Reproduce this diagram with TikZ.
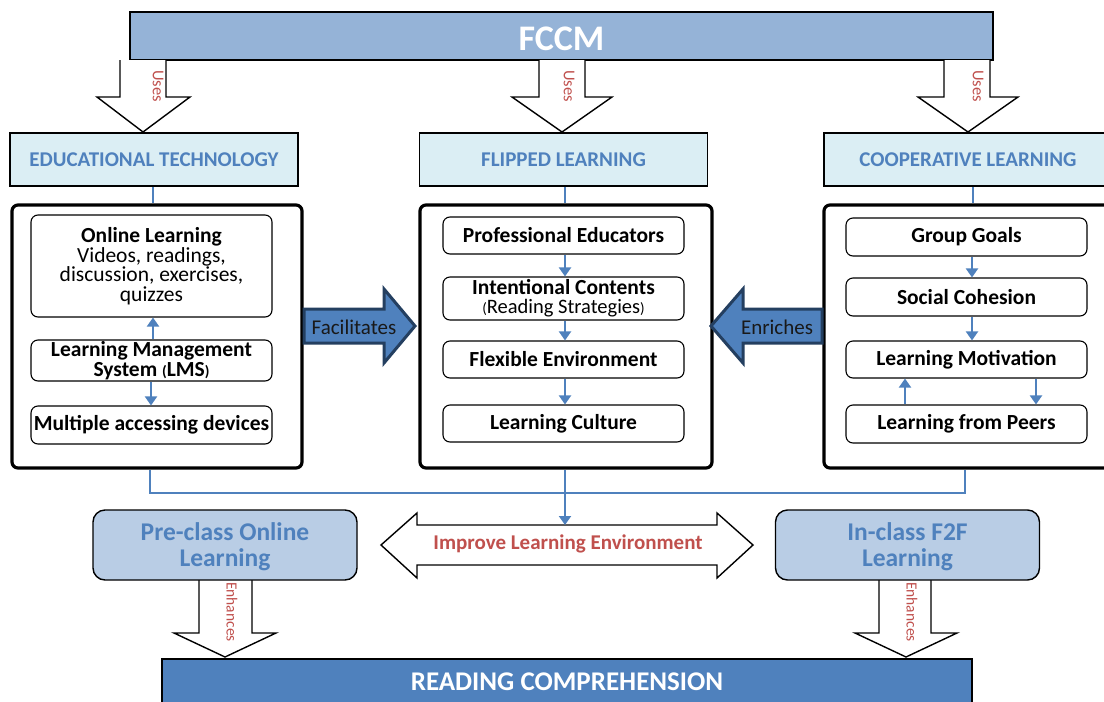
\documentclass[tikz,border=0pt]{standalone}
\usepackage{fontspec}
\setmainfont{Carlito}
\usetikzlibrary{arrows.meta}
\definecolor{fccmfill}{HTML}{95B3D7}
\definecolor{hdrfill}{HTML}{DBEEF4}
\definecolor{hdrblue}{HTML}{4F81BD}
\definecolor{linkblue}{HTML}{4F81BD}
\definecolor{navy}{HTML}{243F60}
\definecolor{redtxt}{HTML}{C0504D}
\definecolor{lowfill}{HTML}{B9CDE5}
\newcommand{\smallpar}[1]{{\fontsize{15}{15}\selectfont #1}}
\begin{document}
\begin{tikzpicture}[x=1pt,y=-1pt,
  hdr/.style={draw=black, line width=1.6pt, fill=hdrfill, text=hdrblue,
    font=\fontsize{21}{24}\selectfont\bfseries, minimum width=288pt, minimum height=53pt, inner sep=0pt},
  cont/.style={draw=black, line width=3.2pt, rounded corners=6pt, minimum width=290pt, minimum height=263pt, inner sep=0pt},
  ibox/.style={draw=black, line width=1.1pt, rounded corners=7pt, fill=white, minimum width=241pt,
    align=center, font=\fontsize{21.5}{19.5}\selectfont\bfseries, inner sep=0pt},
  flow/.style={draw=linkblue, line width=2pt, -{Triangle[width=12pt,length=9pt]}},
  link/.style={draw=linkblue, line width=2pt},
  blockw/.style={draw=black, line width=1.4pt, fill=white, line join=miter},
  blockb/.style={draw=navy, line width=3pt, fill=linkblue, line join=miter},
  vlabel/.style={text=redtxt, rotate=-90, font=\fontsize{16.5}{17}\selectfont, inner sep=0pt},
  lowbox/.style={draw=black, line width=1.4pt, rounded corners=12pt, fill=lowfill, text=hdrblue,
    minimum width=264pt, minimum height=70pt, align=center, font=\fontsize{25.5}{26}\selectfont\bfseries, inner sep=0pt},
  blocktext/.style={font=\fontsize{21}{24}\selectfont, text=black!90, inner sep=0pt}
]
\useasboundingbox (0,0) rectangle (1104,702);

% top box
\node[draw=black, line width=1.6pt, fill=fccmfill, minimum width=863pt, minimum height=48pt, inner sep=0pt,
  text=white, font=\fontsize{36}{40}\selectfont\bfseries] (fccm) at (561.5,36) {\raisebox{-3pt}[\height][\depth]{FCCM}};

% Uses arrows
\draw[blockw] (120,60) -- (120,97) -- (97,97) -- (143,132) -- (190,97) -- (166,97) -- (166,60);
\node[vlabel] (uses1) at (158,86) {Uses};
\draw[blockw] (539,60) -- (539,97) -- (512,97) -- (562,132) -- (612,97) -- (585,97) -- (585,60);
\node[vlabel] (uses2) at (569,86) {Uses};
\draw[blockw] (944,60) -- (944,97) -- (918,97) -- (968,132) -- (1018,97) -- (990,97) -- (990,60);
\node[vlabel] (uses3) at (978,86) {Uses};

% headers
\node[hdr] (et) at (154,159.5) {EDUCATIONAL TECHNOLOGY};
\node[hdr] (fl) at (563.5,159.5) {FLIPPED LEARNING};
\node[hdr, minimum width=288pt] (cl) at (968,159.5) {COOPERATIVE LEARNING};

% containers
\node[cont] (c1) at (157,336.5) {};
\node[cont, minimum width=292pt] (c2) at (566,336.5) {};
\node[cont] (c3) at (969,336.5) {};

\draw[link] (et.south -| 153,0) -- (c1.north -| 153,0);
\draw[link] (fl.south -| 565,0) -- (c2.north -| 565,0);
\draw[link] (cl.south -| 973,0) -- (c3.north -| 973,0);

% left inner
\node[ibox, minimum height=102pt] (ol) at (151.5,266) {Online Learning\\{\mdseries Videos, readings,}\\{\mdseries discussion, exercises,}\\{\mdseries quizzes}};
\node[ibox, minimum height=41pt, font=\fontsize{21.5}{20}\selectfont\bfseries] (lms) at (151.5,360.5) {Learning Management\\System \smallpar{(}LMS\smallpar{)}};
\node[ibox, minimum height=38pt] (mad) at (151.5,425) {Multiple accessing devices};
\draw[flow] (lms.north -| 153,0) -- (ol.south -| 153,0);
\draw[flow] (lms.south -| 151,0) -- (mad.north -| 151,0);

% middle inner
\node[ibox, minimum height=37pt] (pe) at (563.5,235.5) {Professional Educators};
\node[ibox, minimum height=43pt, font=\fontsize{21.5}{19}\selectfont\bfseries] (ic) at (563.5,298.5) {Intentional Contents\\{\mdseries\fontsize{20.5}{19}\selectfont\smallpar{(}Reading Strategies\smallpar{)}}};
\node[ibox, minimum height=37pt] (fe) at (563.5,359.5) {Flexible Environment};
\node[ibox, minimum height=37pt] (lc) at (563.5,423.5) {Learning Culture};
\draw[flow] (pe.south -| 565,0) -- (ic.north -| 565,0);
\draw[flow] (ic.south -| 565,0) -- (fe.north -| 565,0);
\draw[flow] (fe.south -| 565,0) -- (lc.north -| 565,0);

% right inner
\node[ibox, minimum height=38pt] (gg) at (966.5,237) {Group Goals};
\node[ibox, minimum height=38pt] (sc) at (966.5,297) {Social Cohesion};
\node[ibox, minimum height=37pt] (lm) at (966.5,359.5) {Learning Motivation};
\node[ibox, minimum height=38pt] (lp) at (966.5,424) {Learning from Peers};
\draw[flow] (gg.south -| 972,0) -- (sc.north -| 972,0);
\draw[flow] (sc.south -| 972,0) -- (lm.north -| 972,0);
\draw[flow] (lp.north -| 905,0) -- (lm.south -| 905,0);
\draw[flow] (lm.south -| 1036,0) -- (lp.north -| 1036,0);

% Facilitates / Enriches
\draw[blockb] (304,309) -- (384,309) -- (384,289) -- (415,326) -- (384,363) -- (384,343) -- (304,343) -- cycle;
\node[blocktext] (fac) at (354,327) {Facilitates};
\draw[blockb] (822,309) -- (743,309) -- (743,289) -- (711,326) -- (743,363) -- (743,343) -- (822,343) -- cycle;
\node[blocktext] (enr) at (777,327) {Enriches};

% bottom connectors
\coordinate (j1) at (150,493);
\coordinate (j3) at (965,493);
\draw[link] (c1.south -| j1) -- (j1) -- (j3) -- (c3.south -| j3);

% improve double arrow
\draw[blockw] (381,545) -- (417,513) -- (417,525) -- (717,525) -- (717,513) -- (753,545) -- (717,578) -- (717,565) -- (417,565) -- (417,578) -- cycle;
\node[text=redtxt, font=\fontsize{21}{24}\selectfont\bfseries, inner sep=0pt] (imp) at (568,544) {Improve Learning Environment};
\coordinate (impTop) at (565,525);
\draw[flow] (c2.south -| impTop) -- (impTop);

% lower boxes
\draw[blockw] (199,580) -- (199,633) -- (174,633) -- (225,657) -- (276,633) -- (252,633) -- (252,580);
\node[vlabel, font=\fontsize{15.5}{16}\selectfont] (enh1) at (232,612) {Enhances};
\draw[blockw] (879,580) -- (879,633) -- (855,633) -- (906,657) -- (957,633) -- (931,633) -- (931,580);
\node[vlabel, font=\fontsize{15.5}{16}\selectfont] (enh2) at (912,612) {Enhances};
\node[lowbox] (pre) at (225,545) {\raisebox{-3pt}[\height][\depth]{\begin{tabular}{@{}c@{}}Pre-class Online\\[0pt]Learning\end{tabular}}};
\node[lowbox] (inc) at (907.5,545) {\raisebox{-3pt}[\height][\depth]{\begin{tabular}{@{}c@{}}In-class F2F\\[0pt]Learning\end{tabular}}};

% reading comprehension
\node[draw=black, line width=1.6pt, fill=linkblue, minimum width=810pt, minimum height=46pt, inner sep=0pt,
  text=white, font=\fontsize{27}{30}\selectfont\bfseries] (rc) at (567,682) {READING COMPREHENSION};
\end{tikzpicture}
\end{document}
